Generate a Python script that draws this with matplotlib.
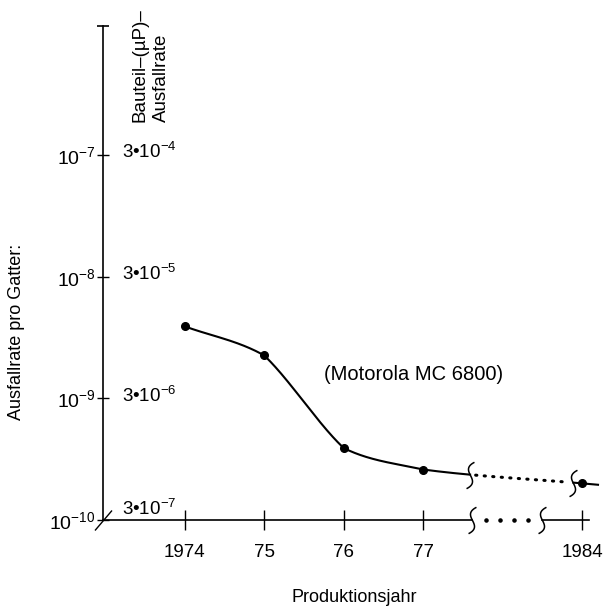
# Ausfallrate pro Gatter bzw. pro Bauteil (Motorola MC 6800) über dem Produktionsjahr
import numpy as np
import matplotlib
matplotlib.use('Agg')
import matplotlib.pyplot as plt
from matplotlib.path import Path
from matplotlib.ticker import NullLocator

# ── Schrift ──
plt.rcParams['font.family'] = ['Liberation Sans', 'DejaVu Sans']
plt.rcParams['mathtext.fontset'] = 'custom'
plt.rcParams['mathtext.rm'] = 'Liberation Sans'
plt.rcParams['mathtext.it'] = 'Liberation Sans:italic'
plt.rcParams['mathtext.bf'] = 'Liberation Sans:bold'

# ── Daten ──
years = [1974, 1975, 1976, 1977, 1984]
year_labels = ['1974', '75', '76', '77', '1984']
rate_gate = [3.9e-9, 2.25e-9, 3.9e-10, 2.6e-10, 2.0e-10]

decades = [1e-10, 1e-9, 1e-8, 1e-7]
gate_labels = [r'$10^{-10}$', r'$10^{-9}$', r'$10^{-8}$', r'$10^{-7}$']
chip_labels = ['3•$10^{-7}$', '3•$10^{-6}$', '3•$10^{-5}$', '3•$10^{-4}$']


def year_to_x(year):
    # gebrochene Zeitachse: 1977 -> 1984 auf zwei Jahresbreiten gestaucht
    year = np.asarray(year, dtype=float)
    return np.where(year <= 1977, year - 1974, 3 + (year - 1977) * 2 / 7)


def smooth(x, y, xs, w=0.25):
    # stückweise kubische Hermite-Kurve; an jedem Stützpunkt eigene Ein-/Ausgangssteigung,
    # gemischt aus den Sehnen links und rechts (leichter Knick wie bei Handzeichnung)
    x = np.asarray(x, float)
    y = np.asarray(y, float)
    h = np.diff(x)
    d = np.diff(y) / h
    m_out = np.empty(len(x) - 1)   # Steigung am Anfang von Segment k
    m_in = np.empty(len(x) - 1)    # Steigung am Ende von Segment k
    m_out[0] = d[0]
    m_in[-1] = d[-1]
    for k in range(1, len(x) - 1):
        m_in[k - 1] = (1 - w) * d[k - 1] + w * d[k]
        m_out[k] = w * d[k - 1] + (1 - w) * d[k]
    xs = np.asarray(xs, float)
    out = np.empty_like(xs)
    for i, xv in enumerate(xs):
        if xv <= x[0]:
            out[i] = y[0] + m_out[0] * (xv - x[0])
        elif xv >= x[-1]:
            out[i] = y[-1] + m_in[-1] * (xv - x[-1])
        else:
            k = np.searchsorted(x, xv) - 1
            t = (xv - x[k]) / h[k]
            h00 = 2 * t**3 - 3 * t**2 + 1
            h10 = t**3 - 2 * t**2 + t
            h01 = -2 * t**3 + 3 * t**2
            h11 = t**3 - t**2
            out[i] = h00 * y[k] + h10 * h[k] * m_out[k] + h01 * y[k + 1] + h11 * h[k] * m_in[k]
    return out


# Bruchzeichen (kleines Integral-S) und Nullpunkt-Strich als Marker
t = np.linspace(-1, 1, 40)
brk_path = Path(np.column_stack([0.15 * t**5 - 0.08 * np.sin(np.pi * t), 0.5 * t]),
                [Path.MOVETO] + [Path.LINETO] * 39)
slash_path = Path([(-17, -20), (17, 20)], [Path.MOVETO, Path.LINETO])

# ── Figur ──
fig = plt.figure(figsize=(6.06, 6.10), dpi=100)
ax = fig.add_axes([103 / 606, 90 / 610, (598 - 103) / 606, (520 - 26) / 610])
ax.set_yscale('log')
ax.set_ylim(1e-10, 10**-5.94)
ax.set_xlim(-1.03, 5.2)

for side in ['top', 'right', 'bottom']:
    ax.spines[side].set_visible(False)
ax.spines['left'].set_linewidth(1.2)

ax.set_yticks(decades, gate_labels)
ax.yaxis.set_minor_locator(NullLocator())
ax.tick_params(axis='y', direction='inout', length=9, width=1, pad=1, labelsize=14)

xpos = year_to_x(years)
ax.set_xticks(xpos, year_labels)
ax.tick_params(axis='x', direction='inout', length=14, width=1, pad=10, labelsize=13.5)

# Zeitachse mit Unterbrechung
b1, b2, x_end = 3.62, 4.49, 5.09
y0 = decades[0]
ax.plot([ax.get_xlim()[0], b1], [y0, y0], color='k', lw=1.2, clip_on=False)
ax.plot([b2, x_end], [y0, y0], color='k', lw=1.2, clip_on=False)
ax.plot(np.linspace(b1, b2, 6)[1:-1], [y0] * 4, 'k.', ms=4.5, clip_on=False)
ax.plot([b1, b2], [y0, y0], ls='none', marker=brk_path, ms=19, mew=1.1,
        mec='k', mfc='none', clip_on=False)

# Achsenabschluss oben und Strich am Nullpunkt
ax.plot(0, 1, marker='_', ms=9, mew=1.2, color='k', transform=ax.transAxes, clip_on=False)
ax.plot(0, 0, marker=slash_path, ms=14.4, mew=1.0, color='k', transform=ax.transAxes,
        clip_on=False)

# rechte Beschriftung: Bauteil-Ausfallrate
for d, lbl in zip(decades, chip_labels):
    dy = 8 if d == decades[0] else 2
    ax.annotate(lbl, xy=(0, d), xycoords=('axes fraction', 'data'),
                xytext=(13.5, dy), textcoords='offset points',
                ha='left', va='center', fontsize=13.5)

# Kurve
log_rate = np.log10(rate_gate)
c1, c2 = 3.59, 4.89
xs_solid = np.linspace(xpos[0], c1, 300)
xs_dot = np.linspace(c1 + 0.07, c2 - 0.06, 60)
xs_tail = np.linspace(c2, 5.2, 20)
ax.plot(xs_solid, 10**smooth(xpos, log_rate, xs_solid), color='k', lw=1.5)
ax.plot(xs_dot, 10**smooth(xpos, log_rate, xs_dot), color='k', lw=2.2,
        ls=(0, (0.4, 2.4)), dash_capstyle='round')
ax.plot(xs_tail, 10**smooth(xpos, log_rate, xs_tail), color='k', lw=1.5, clip_on=False)
brk_x = np.array([c1, c2])
ax.plot(brk_x, 10**smooth(xpos, log_rate, brk_x), ls='none', marker=brk_path, ms=19,
        mew=1.1, mec='k', mfc='none')
ax.plot(xpos, rate_gate, 'ko', ms=5.5)

# Texte
fig.text(17 / 606, 1 - 332 / 610, 'Ausfallrate pro Gatter:', rotation=90,
         ha='center', va='center', fontsize=13)
fig.text(354 / 606, 1 - 597 / 610, 'Produktionsjahr', ha='center', va='center', fontsize=13)
fig.text(131 / 606, 1 - 122 / 610, 'Bauteil–(µP)–\nAusfallrate', rotation=90,
         rotation_mode='anchor', ha='left', va='top', multialignment='left',
         fontsize=13.5, linespacing=1.35)
fig.text(414 / 606, 1 - 374 / 610, '(Motorola MC 6800)', ha='center', va='center',
         fontsize=14.5)

fig.savefig('out.png', dpi=100, facecolor='white')
